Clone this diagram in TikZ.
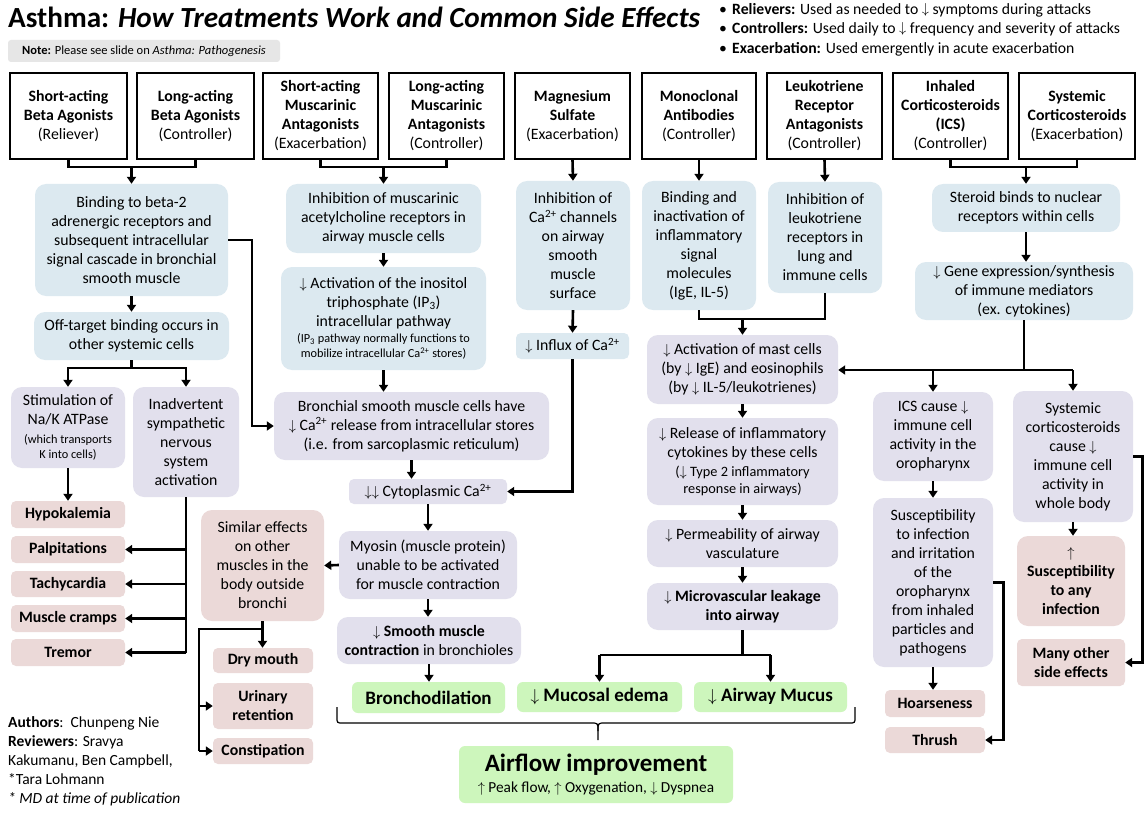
\documentclass[tikz,border=0pt]{standalone}
\usepackage{fontspec}
\setmainfont{Carlito}
\usetikzlibrary{arrows.meta,calc}
\definecolor{cblue}{RGB}{220,233,240}
\definecolor{cpur}{RGB}{226,224,237}
\definecolor{crose}{RGB}{235,217,216}
\definecolor{cgreen}{RGB}{205,246,188}
\definecolor{cnote}{RGB}{230,230,230}
\newcommand\DN{$\downarrow$}
\newcommand\UP{$\uparrow$}
\newcommand\sm{\fontsize{12.3}{15}\selectfont}
\newcommand\smm{\fontsize{14.3}{16}\selectfont}
\newcommand\mybox[7]{\pgfmathsetmacro\bw{#5-#3}\pgfmathsetmacro\bh{#6-#4}\pgfmathsetmacro\bcx{(#3+#5)/2}\pgfmathsetmacro\bcy{(#4+#6)/2}\node[#2,minimum width=\bw pt,minimum height=\bh pt] (#1) at (\bcx,\bcy) {#7};}
\tikzset{
 base/.style={align=center, inner sep=0pt, font=\fontsize{15.8}{19}\selectfont},
 drug/.style={base, draw=black, line width=1.6pt, fill=white},
 blu/.style={base, fill=cblue, rounded corners=11pt},
 blus/.style={base, fill=cblue, rounded corners=5pt},
 pur/.style={base, fill=cpur, rounded corners=11pt},
 purs/.style={base, fill=cpur, rounded corners=5pt},
 ros/.style={base, fill=crose, rounded corners=11pt},
 rsm/.style={base, fill=crose, rounded corners=5pt, font=\fontsize{15.8}{19}\selectfont\bfseries},
 grn/.style={base, fill=cgreen, rounded corners=6pt, font=\fontsize{19}{23}\selectfont\bfseries},
 ln/.style={line width=2.6pt},
 arr/.style={line width=2.6pt, -{Triangle[length=7pt,width=9pt]}},
}
\begin{document}
\begin{tikzpicture}[x=1pt,y=-1pt]
\useasboundingbox[fill=white] (0,0) rectangle (1147,818);
% header
\node[anchor=base west, inner sep=0, font=\fontsize{29.2}{34}\selectfont\bfseries] (title) at (8,28) {Asthma: \itshape How Treatments Work and Common Side Effects};
\node[fill=cnote, rounded corners=3pt, minimum width=272pt, minimum height=22pt, inner sep=0, font=\fontsize{12.5}{15}\selectfont] (note) at (144,51) {\textbf{Note:} Please see slide on \textit{Asthma: Pathogenesis}};
\node[anchor=north west, align=left, inner sep=0, font=\fontsize{15.7}{19.4}\selectfont] (bul) at (719,3) {\makebox[13pt][l]{\textbullet}\textbf{Relievers:} Used as needed to \raisebox{1pt}{\DN}\ symptoms during attacks\\\makebox[13pt][l]{\textbullet}\textbf{Controllers:} Used daily to \raisebox{1pt}{\DN}\ frequency and severity of attacks\\\makebox[13pt][l]{\textbullet}\textbf{Exacerbation:} Used emergently in acute exacerbation};
% drug boxes
\mybox{sab}{drug}{10}{73}{127}{159}{\textbf{Short-acting}\\\textbf{Beta Agonists}\\(Reliever)}
\mybox{lab}{drug}{137}{73}{254}{159}{\textbf{Long-acting}\\\textbf{Beta Agonists}\\(Controller)}
\mybox{sama}{drug}{263}{73}{378}{159}{\textbf{Short-acting}\\\textbf{Muscarinic}\\\textbf{Antagonists}\\(Exacerbation)}
\mybox{lama}{drug}{389}{73}{504}{159}{\textbf{Long-acting}\\\textbf{Muscarinic}\\\textbf{Antagonists}\\(Controller)}
\mybox{mg}{drug}{515}{73}{630}{159}{\textbf{Magnesium}\\\textbf{Sulfate}\\(Exacerbation)}
\mybox{mab}{drug}{642}{73}{756}{159}{\textbf{Monoclonal}\\\textbf{Antibodies}\\(Controller)}
\mybox{ltra}{drug}{767}{73}{882}{159}{\textbf{Leukotriene}\\\textbf{Receptor}\\\textbf{Antagonists}\\(Controller)}
\mybox{ics}{drug}{893}{73}{1008}{159}{\textbf{Inhaled}\\\textbf{Corticosteroids}\\\textbf{(ICS)}\\(Controller)}
\mybox{sys}{drug}{1019}{73}{1135}{159}{\textbf{Systemic}\\\textbf{Corticosteroids}\\(Exacerbation)}
% beta agonist column
\mybox{A1}{blu}{35}{184}{228}{296}{Binding to beta-2\\adrenergic receptors and\\subsequent intracellular\\signal cascade in bronchial\\smooth muscle}
\mybox{A2}{blu}{34}{312}{229}{360}{Off-target binding occurs in\\other systemic cells}
\mybox{A3}{pur}{11}{387}{125}{468}{Stimulation of\\Na/K ATPase\\{\sm (which transports}\\[-4pt]{\sm K into cells)}}
\mybox{A4}{pur}{133}{387}{239}{497}{Inadvertent\\sympathetic\\nervous\\system\\activation}
\mybox{hypo}{rsm}{11}{501}{125}{528}{Hypokalemia}
\mybox{palp}{rsm}{11}{536}{125}{563}{Palpitations}
\mybox{tach}{rsm}{11}{571}{125}{597}{Tachycardia}
\mybox{cramp}{rsm}{11}{605}{125}{632}{Muscle cramps}
\mybox{trem}{rsm}{11}{639}{125}{666}{Tremor}
% muscarinic column
\mybox{B1}{blu}{286}{184}{481}{253}{Inhibition of muscarinic\\acetylcholine receptors in\\airway muscle cells}
\mybox{B2}{blu}{281}{267}{486}{370}{\DN\ Activation of the inositol\\triphosphate (IP\textsubscript{3})\\intracellular pathway\\[-3pt]{\sm (IP\textsubscript{3} pathway normally functions to}\\[-4pt]{\sm mobilize intracellular Ca\textsuperscript{2+} stores)}}
\mybox{B3}{pur}{274}{392}{549}{460}{Bronchial smooth muscle cells have\\\DN\ Ca\textsuperscript{2+} release from intracellular stores\\(i.e. from sarcoplasmic reticulum)}
\mybox{B4}{purs}{349}{479}{507}{504}{\DN\DN\ Cytoplasmic Ca\textsuperscript{2+}}
\mybox{B5}{pur}{339}{531}{517}{599}{Myosin (muscle protein)\\unable to be activated\\for muscle contraction}
\mybox{B6}{ros}{201}{510}{324}{621}{Similar effects\\on other\\muscles in the\\body outside\\bronchi}
\mybox{dry}{rsm}{213}{648}{313}{673}{Dry mouth}
\mybox{uri}{rsm}{213}{683}{313}{729}{Urinary\\retention}
\mybox{const}{rsm}{213}{738}{313}{764}{Constipation}
\mybox{B7}{pur}{337}{617}{521}{664}{\textbf{\DN\ Smooth muscle}\\\textbf{contraction} in bronchioles}
% outcomes
\mybox{G1}{grn}{352}{682}{505}{713}{Bronchodilation}
\mybox{G2}{grn}{517}{682}{682}{712}{\DN\ Mucosal edema}
\mybox{G3}{grn}{694}{682}{847}{712}{\DN\ Airway Mucus}
\mybox{G4}{grn}{459}{746}{733}{803}{{\fontsize{25}{29}\selectfont Airflow improvement}\\[-2pt]{\fontsize{15.3}{17}\selectfont\mdseries \UP\ Peak flow, \UP\ Oxygenation, \DN\ Dyspnea}}
% magnesium
\mybox{C1}{blu}{516}{181}{630}{310}{Inhibition of\\Ca\textsuperscript{2+} channels\\on airway\\smooth\\muscle\\surface}
\mybox{C2}{blus}{516}{333}{629}{359}{\DN\ Influx of Ca\textsuperscript{2+}}
% antibodies / leukotriene
\mybox{D1}{blu}{642}{181}{756}{310}{Binding and\\inactivation of\\inflammatory\\signal\\molecules\\(IgE, IL-5)}
\mybox{D2}{blu}{768}{182}{882}{293}{Inhibition of\\leukotriene\\receptors in\\lung and\\immune cells}
\mybox{D3}{pur}{647}{335}{838}{404}{\DN\ Activation of mast cells\\(by \DN\ IgE) and eosinophils\\(by \DN\ IL-5/leukotrienes)}
\mybox{D4}{pur}{647}{418}{838}{505}{\DN\ Release of inflammatory\\cytokines by these cells\\{\smm (\DN\ Type 2 inflammatory}\\[-2pt]{\smm response in airways)}}
\mybox{D5}{pur}{647}{520}{838}{567}{\DN\ Permeability of airway\\vasculature}
\mybox{D6}{pur}{647}{583}{838}{630}{\textbf{\DN\ Microvascular leakage}\\\textbf{into airway}}
% steroids
\mybox{E1}{blu}{932}{184}{1120}{232}{Steroid binds to nuclear\\receptors within cells}
\mybox{E2}{blu}{915}{262}{1133}{320}{\DN\ Gene expression/synthesis\\of immune mediators\\(ex. cytokines)}
\mybox{F1}{pur}{873}{392}{993}{481}{ICS cause \DN\\immune cell\\activity in the\\oropharynx}
\mybox{F2}{pur}{1013}{391}{1133}{522}{Systemic\\corticosteroids\\cause \DN\\immune cell\\activity in\\whole body}
\mybox{F3}{pur}{873}{498}{993}{667}{Susceptibility\\to infection\\and irritation\\of the\\oropharynx\\from inhaled\\particles and\\pathogens}
\mybox{hoar}{rsm}{885}{690}{985}{717}{Hoarseness}
\mybox{thr}{rsm}{885}{727}{985}{753}{Thrush}
\mybox{F4}{ros}{1017}{536}{1125}{626}{\UP\\\textbf{Susceptibility}\\\textbf{to any}\\\textbf{infection}}
\mybox{F5}{rsm}{1017}{639}{1125}{686}{Many other\\side effects}
% authors
\node[anchor=north west, align=left, inner sep=0, font=\fontsize{15.5}{19}\selectfont] (auth) at (8,716) {\textbf{Authors}:~~Chunpeng Nie\\\textbf{Reviewers}: Sravya\\Kakumanu, Ben Campbell,\\*Tara Lohmann\\\textit{* MD at time of publication}};
% ---- connectors ----
\coordinate (j1) at (131.5,167);
\draw[ln] (sab.south) |- (j1) -| (lab.south);
\draw[arr] (j1) -- (A1.north);
\draw[arr] (A1.south) -- (A2.north);
\coordinate (j1b) at (131.5,368);
\draw[ln] (A2.south) -- (j1b);
\draw[arr] (j1b) -| (A3.north);
\draw[arr] (j1b) -| (A4.north);
\draw[arr] (A3.south) -- (hypo.north);
\draw[ln] (A4.south) -- (A4.south |- trem.east);
\draw[arr] (A4.south |- palp.east) -- (palp.east);
\draw[arr] (A4.south |- tach.east) -- (tach.east);
\draw[arr] (A4.south |- cramp.east) -- (cramp.east);
\draw[arr] (A4.south |- trem.east) -- (trem.east);
\coordinate (c1) at (252,240);
\draw[arr] (A1.east) -- (c1) |- (B3.west);
\coordinate (j2) at (383.5,167);
\draw[ln] (sama.south) |- (j2) -| (lama.south);
\draw[arr] (j2) -- (B1.north);
\draw[arr] (B1.south) -- (B2.north);
\draw[arr] (B2.south) -- (B2.south |- B3.north);
\draw[arr] (B3.south) -- (B3.south |- B4.north);
\draw[arr] (B4.south) -- (B5.north);
\draw[arr] (B5.west) -- (B6.east);
\draw[arr] (B5.south) -- (B5.south |- B7.north);
\draw[arr] (B7.south) -- (B7.south |- G1.north);
\draw[arr] (B6.south) -- (B6.south |- dry.north);
\coordinate (k0) at (262.5,629);
\coordinate (k1) at (199,629);
\draw[ln] (k0) -- (k1) -- (k1 |- const.west);
\draw[arr] (k1 |- uri.west) -- (uri.west);
\draw[arr] (k1 |- const.west) -- (const.west);
\draw[arr] (mg.south) -- (C1.north);
\draw[arr] (C1.south) -- (C2.north);
\draw[arr] (C2.south) |- (B4.east);
\draw[arr] (mab.south) -- (D1.north);
\draw[arr] (ltra.south) -- (D2.north);
\coordinate (j3) at (742.5,319);
\draw[ln] (D1.south) |- (j3) -| (D2.south);
\draw[arr] (j3) -- (D3.north);
\draw[arr] (D3.south) -- (D4.north);
\draw[arr] (D4.south) -- (D5.north);
\draw[arr] (D5.south) -- (D6.north);
\coordinate (j6) at (742.5,655);
\draw[ln] (D6.south) -- (j6);
\draw[ln] (j6 -| G2.north) -- (j6 -| G3.north);
\draw[arr] (j6 -| G2.north) -- (G2.north);
\draw[arr] (j6 -| G3.north) -- (G3.north);
\coordinate (j4) at (1026,167);
\draw[ln] (ics.south) |- (j4) -| (sys.south);
\draw[arr] (j4) -- (E1.north);
\draw[arr] (E1.south) -- (E1.south |- E2.north);
\coordinate (j5) at (1024,370);
\draw[ln] (E2.south) -- (j5);
\draw[arr] (j5) -- (j5 -| D3.east);
\draw[ln] (j5) -- (j5 -| F2.north);
\draw[arr] (j5 -| F1.north) -- (F1.north);
\draw[arr] (j5 -| F2.north) -- (F2.north);
\draw[arr] (F1.south) -- (F3.north);
\draw[arr] (F3.south) -- (F3.south |- hoar.north);
\draw[arr] (F3.east) -- ++(10,0) |- (thr.east);
\draw[arr] (F2.south) -- (F2.south |- F4.north);
\draw[arr] (F2.east) -- ++(9,0) |- (F5.east);
% brace
\draw[line width=1.2pt] (337,707) -- (337,717) .. controls (337,723) .. (343,723) -- (591,723) .. controls (598,723) .. (598,731) -- (598,740);
\draw[line width=1.2pt] (598,731) .. controls (598,723) .. (605,723) -- (849,723) .. controls (855,723) .. (855,717) -- (855,707);
\end{tikzpicture}
\end{document}
